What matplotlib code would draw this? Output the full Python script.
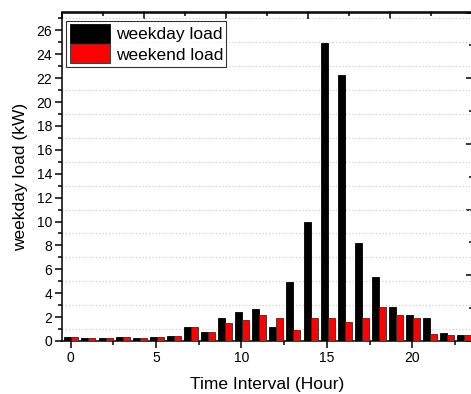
import numpy as np
import matplotlib
matplotlib.use("Agg")
import matplotlib.pyplot as plt
from matplotlib.ticker import MultipleLocator, NullFormatter

plt.rcParams["font.family"] = ["Liberation Sans", "DejaVu Sans"]

# hourly load profile (kW)
hours = np.arange(24)
weekday_load = [0.36, 0.22, 0.22, 0.36, 0.22, 0.36, 0.45, 1.17, 0.78, 1.92,
                2.42, 2.70, 1.17, 4.96, 9.95, 24.97, 22.24, 8.17, 5.33, 2.87,
                2.15, 1.90, 0.64, 0.50]
weekend_load = [0.36, 0.22, 0.22, 0.36, 0.22, 0.36, 0.45, 1.17, 0.78, 1.50,
                1.75, 2.15, 1.90, 0.95, 1.95, 1.90, 1.56, 1.90, 2.87, 2.15,
                1.90, 0.56, 0.50, 0.50]

W, H = 471, 394
fig = plt.figure(figsize=(W / 100, H / 100), dpi=100)
ax = fig.add_axes([62 / W, 53 / H, 410 / W, 328.5 / H])

bw = 0.41
ax.bar(hours - 0.36, weekday_load, width=bw, align="edge", color="black",
       edgecolor="black", linewidth=0.6, label="weekday load", zorder=3)
ax.bar(hours + 0.05, weekend_load, width=bw, align="edge", color="#ff0000",
       edgecolor="#303030", linewidth=0.6, label="weekend load", zorder=3)

ax.set_xlim(-0.5, 23.5)
ax.set_ylim(0, 27.5)
ax.xaxis.set_major_locator(MultipleLocator(5))
ax.xaxis.set_minor_locator(MultipleLocator(2.5))
ax.yaxis.set_major_locator(MultipleLocator(2))
ax.yaxis.set_minor_locator(MultipleLocator(2, offset=1))
ax.tick_params(which="major", direction="out", length=5, width=1.1,
               labelsize=10, pad=2)
ax.tick_params(which="minor", direction="out", length=2.8, width=1.1)
ax.tick_params(top=False, right=False)
ax.grid(which="minor", axis="y", color="#c8c8c8", linestyle=(0, (1, 2)),
        linewidth=0.8, zorder=0)
for s in ax.spines.values():
    s.set_linewidth(1.1)

ax.set_xlabel("Time Interval (Hour)", fontsize=12.5, labelpad=9)
ax.set_ylabel("weekday load (kW)", fontsize=12.5, labelpad=6)

# unlabelled top and right scales
top = ax.secondary_xaxis("top", functions=(lambda x: (x + 0.5) / 24 * 5,
                                           lambda u: u / 5 * 24 - 0.5))
top.xaxis.set_major_locator(MultipleLocator(1))
top.xaxis.set_minor_locator(MultipleLocator(0.5))
top.xaxis.set_major_formatter(NullFormatter())
top.tick_params(which="major", direction="in", length=5, width=1.1)
top.tick_params(which="minor", direction="in", length=2.8, width=1.1)
top.spines["top"].set_linewidth(1.1)

right = ax.secondary_yaxis("right", functions=(lambda y: y / 27.5 * 5,
                                               lambda v: v / 5 * 27.5))
right.yaxis.set_major_locator(MultipleLocator(1))
right.yaxis.set_minor_locator(MultipleLocator(0.5))
right.yaxis.set_major_formatter(NullFormatter())
right.tick_params(which="major", direction="in", length=4.5, width=1.1)
right.tick_params(which="minor", direction="in", length=2.5, width=1.1)

leg = ax.legend(loc="upper left", bbox_to_anchor=(0.01, 0.975), fontsize=12.5,
                frameon=True, fancybox=False, edgecolor="black",
                handlelength=2.3, handleheight=1.3, handletextpad=0.35,
                labelspacing=0.08, borderpad=0.2, borderaxespad=0)
leg.get_frame().set_linewidth(0.8)
leg.set_zorder(5)

fig.savefig("out.png", dpi=100)
